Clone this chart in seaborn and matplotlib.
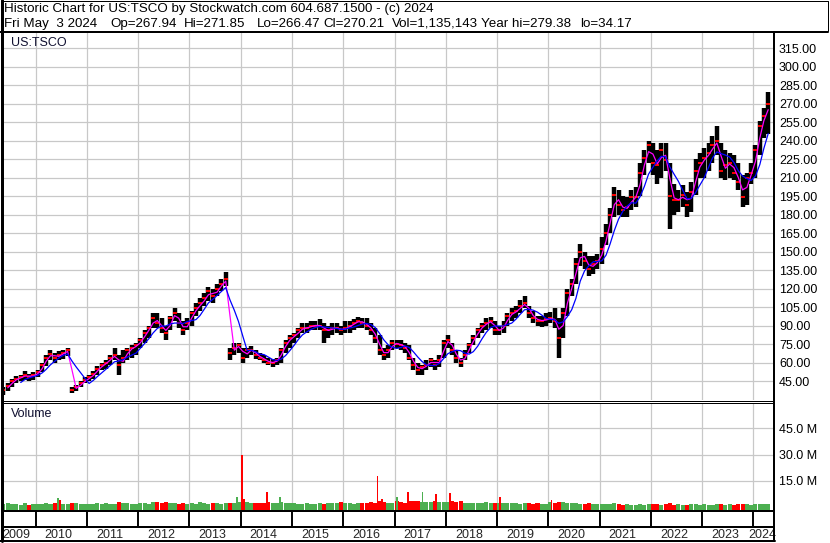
import numpy as np
import pandas as pd
import matplotlib
matplotlib.use("Agg")
import matplotlib.pyplot as plt
import seaborn as sns

W, H = 830, 543

# monthly bars, May 2009 .. Apr 2024 (prices not split-adjusted)
months = pd.date_range("2009-05-01", "2024-04-01", freq="MS")

high = [
    40, 43, 47, 49, 50, 53, 51, 52,                          # 2009
    54, 60, 66, 70, 68, 69, 70, 72, 40, 42, 45, 48,          # 2010
    50, 53, 57, 60, 62, 66, 72, 66, 70, 72, 74, 76,          # 2011
    80, 86, 90, 100, 100, 96, 90, 98, 104, 100, 94, 96,      # 2012
    102, 108, 112, 116, 121, 120, 124, 128, 133, 72, 76, 76, # 2013
    72, 72, 73, 70, 68, 66, 64, 63, 64, 72, 78, 82,          # 2014
    84, 88, 92, 92, 94, 94, 95, 92, 90, 92, 92, 90,          # 2015
    94, 94, 95, 97, 96, 96, 92, 88, 82, 72, 74, 78,          # 2016
    78, 78, 76, 74, 64, 60, 58, 62, 64, 62, 66, 78,          # 2017
    82, 76, 70, 64, 70, 76, 82, 88, 92, 96, 97, 94,          # 2018
    90, 94, 100, 104, 106, 111, 114, 106, 102, 98, 98, 100,  # 2019
    101, 104, 96, 104, 120, 128, 145, 156, 150, 146, 146, 148,  # 2020
    162, 172, 185, 202, 200, 195, 194, 200, 202, 222, 232, 240,  # 2021
    238, 232, 238, 238, 222, 205, 200, 204, 198, 206, 225, 230,  # 2022
    234, 238, 244, 252, 238, 232, 230, 228, 222, 212, 214, 222,  # 2023
    236, 256, 266, 279,                                      # 2024
]
low = [
    34, 37, 40, 43, 45, 46, 45, 46,
    48, 52, 57, 62, 60, 62, 63, 65, 35, 37, 40, 43,
    45, 47, 50, 54, 55, 58, 62, 50, 60, 62, 64, 66,
    72, 76, 80, 88, 88, 84, 78, 86, 94, 88, 82, 86,
    90, 98, 102, 106, 110, 108, 114, 118, 122, 62, 66, 68,
    60, 64, 66, 63, 62, 60, 58, 56, 58, 60, 68, 72,
    76, 80, 84, 84, 86, 86, 86, 76, 80, 82, 84, 82,
    84, 84, 86, 88, 88, 86, 82, 76, 66, 62, 64, 70,
    72, 70, 68, 62, 54, 50, 50, 54, 56, 54, 56, 64,
    72, 66, 60, 56, 62, 68, 74, 80, 84, 86, 88, 82,
    82, 84, 90, 94, 96, 100, 104, 96, 92, 90, 89, 90,
    92, 88, 64, 80, 98, 114, 124, 138, 136, 130, 132, 136,
    140, 155, 165, 178, 180, 178, 178, 184, 186, 195, 212, 222,
    212, 205, 210, 215, 168, 180, 182, 186, 178, 182, 196, 210,
    210, 215, 222, 228, 210, 208, 210, 208, 200, 186, 188, 205,
    210, 228, 242, 245,
]
close = [
    38, 41, 45, 47, 48, 50, 48, 50,
    52, 58, 64, 67, 64, 66, 68, 70, 38, 40, 43, 46,
    48, 51, 55, 58, 60, 64, 66, 58, 64, 70, 72, 74,
    78, 84, 88, 96, 92, 88, 84, 96, 100, 92, 86, 92,
    100, 104, 108, 112, 118, 114, 120, 124, 128, 68, 72, 74,
    64, 70, 70, 66, 64, 62, 60, 60, 62, 70, 76, 80,
    82, 86, 88, 88, 90, 90, 90, 86, 86, 88, 88, 86,
    88, 90, 92, 94, 92, 90, 86, 80, 70, 66, 70, 76,
    75, 74, 72, 64, 58, 54, 56, 58, 62, 58, 62, 76,
    78, 70, 64, 60, 66, 74, 80, 86, 90, 92, 94, 86,
    86, 90, 98, 100, 102, 106, 108, 100, 96, 94, 94, 95,
    96, 94, 80, 100, 116, 124, 140, 150, 142, 136, 140, 142,
    152, 165, 180, 196, 188, 184, 186, 194, 194, 214, 226, 236,
    222, 220, 232, 224, 195, 192, 192, 196, 188, 198, 215, 222,
    226, 230, 236, 240, 215, 220, 222, 214, 206, 194, 210, 214,
    232, 252, 260, 270,
]
# typical daily volume per month, millions
volume = [
    1.8, 2.2, 1.5, 1.6, 1.4, 2.0, 1.2, 1.5,
    1.5, 1.8, 2.0, 1.6, 2.0, 2.5, 1.8, 1.5, 2.2, 2.5, 1.5, 1.5,
    1.5, 1.6, 2.0, 1.8, 2.4, 1.5, 1.8, 2.6, 2.0, 2.2, 1.6, 1.8,
    2.0, 2.5, 1.8, 2.8, 3.0, 2.4, 2.6, 2.0, 2.2, 1.8, 2.5, 1.8,
    2.0, 1.8, 2.6, 2.0, 1.5, 2.4, 2.0, 1.8, 2.2, 2.0, 2.5, 2.6,
    3.5, 3.0, 2.5, 2.5, 2.5, 2.0, 3.0, 2.5, 2.0, 3.0, 2.0, 2.0,
    2.0, 1.8, 1.6, 2.0, 1.6, 1.5, 2.2, 1.8, 2.5, 2.4, 2.0, 2.6,
    2.0, 2.5, 1.8, 2.4, 2.0, 2.2, 3.0, 2.5, 3.2, 3.0, 2.5, 2.5,
    3.2, 3.0, 2.5, 3.5, 3.5, 3.2, 3.0, 3.0, 3.0, 3.2, 3.0, 3.0,
    3.0, 3.5, 3.0, 3.5, 2.5, 2.2, 2.4, 2.5, 2.0, 2.6, 2.2, 2.5,
    2.5, 2.2, 2.0, 2.4, 2.0, 1.8, 2.5, 2.2, 1.8, 2.0, 1.6, 1.8,
    2.6, 2.5, 3.0, 2.6, 2.2, 2.0, 2.5, 1.8, 1.6, 2.0, 1.8, 1.6,
    1.6, 1.5, 1.8, 2.0, 1.6, 1.4, 1.6, 1.3, 1.4, 1.8, 1.4, 1.5,
    1.6, 1.8, 1.4, 1.5, 2.0, 1.4, 1.6, 1.2, 1.4, 1.6, 1.5, 1.2,
    1.5, 1.4, 1.3, 1.6, 1.8, 1.3, 1.5, 1.4, 1.6, 1.8, 1.5, 1.4,
    1.6, 1.7, 1.5, 1.8,
]
# single heavy-volume days
spike_dates = ["2010-06-08", "2010-06-22", "2013-12-05", "2014-01-10", "2014-01-24",
               "2014-07-07", "2014-10-09", "2016-09-02", "2016-10-06", "2017-01-18",
               "2017-04-06", "2017-07-20", "2017-10-23", "2018-01-30", "2019-01-25",
               "2020-01-24"]
spike_vols = [5.2, 4.0, 5.9, 30.0, 4.5, 8.8, 5.9, 17.9, 4.5, 5.9,
              8.8, 8.8, 7.3, 7.8, 5.9, 4.0]
spike_up = [True, False, True, False, False, False, True, False, False, True,
            False, True, False, False, False, False]

years = list(range(2009, 2025))
price_ticks = list(range(45, 316, 15))
vol_ticks = [15, 30, 45]

header1 = "Historic Chart for US:TSCO by Stockwatch.com 604.687.1500 - (c) 2024"
header2 = [("Fri May  3 2024", 3.5), ("Op=267.94", 110), ("Hi=271.85", 184),
           ("Lo=266.47", 257), ("Cl=270.21", 323), ("Vol=1,135,143", 392),
           ("Year hi=279.38", 481), ("lo=34.17", 580)]

XMIN, XMAX = 2009.3425, 2024.384
GREEN, RED = "#4caf50", "#ff0000"


def dec_year(d):
    d = pd.Timestamp(d)
    return d.year + (d.dayofyear - 1) / (366 if d.is_leap_year else 365)


sns.set_theme(style="white")
plt.rcParams["font.family"] = ["Liberation Sans", "DejaVu Sans"]

fig = plt.figure(figsize=(W / 100, H / 100), dpi=100)
fig.patch.set_facecolor("white")


def px_axes(x0, y0, x1, y1):
    ax = fig.add_axes([x0 / W, 1 - y1 / H, (x1 - x0) / W, (y1 - y0) / H])
    ax.set_xlim(XMIN, XMAX)
    for s in ax.spines.values():
        s.set_visible(False)
    ax.tick_params(length=0)
    return ax


df = pd.DataFrame({"x": [dec_year(m) + 1 / 24 for m in months],
                   "high": high, "low": low, "close": close, "vol": volume})
df["ma_fast"] = df["close"].rolling(2).mean()
df["ma_slow"] = df["close"].rolling(5).mean()
df["up"] = df["close"].diff().fillna(1) >= 0

# price panel
ax_p = px_axes(2, 32, 773, 400)
ax_p.set_ylim(29.6, 328.0)
ax_p.set_xticks(years[1:])
ax_p.set_xticklabels([])
ax_p.set_yticks(price_ticks)
ax_p.set_yticklabels([f"{t:.2f}" for t in price_ticks])
ax_p.yaxis.tick_right()
ax_p.tick_params(axis="y", pad=4.3, labelsize=9, labelcolor="black")
ax_p.grid(True, color="#c8c8c8", lw=0.9)
ax_p.set_axisbelow(True)

ax_p.vlines(df["x"], df["low"], df["high"], colors="black", lw=3.2, zorder=2)
ax_p.plot(df["x"], df["close"], ls="none", marker="_", ms=3.5, mew=1.4, color=RED, zorder=3)
sns.lineplot(data=df, x="x", y="ma_fast", ax=ax_p, color="#ff00ff", lw=0.9, zorder=4)
sns.lineplot(data=df, x="x", y="ma_slow", ax=ax_p, color="#0000ff", lw=0.9, zorder=5)
ax_p.set_xlabel("")
ax_p.set_ylabel("")
ax_p.set_xlim(XMIN, XMAX)
ax_p.text(9.3 / 771, 1 - (45.7 - 32) / 368, "US:TSCO", transform=ax_p.transAxes,
          fontsize=9, va="baseline", ha="left", color="#101030")

# volume panel
VMIN, VMAX = -1.72, 59.5
ax_v = px_axes(2, 403, 773, 510)
ax_v.set_ylim(VMIN, VMAX)
ax_v.set_xticks(years[1:])
ax_v.set_xticklabels([])
ax_v.set_yticks(vol_ticks)
ax_v.set_yticklabels([f"{t:.1f} M" for t in vol_ticks])
ax_v.yaxis.tick_right()
ax_v.tick_params(axis="y", pad=4.3, labelsize=9, labelcolor="black")
ax_v.grid(True, color="#c8c8c8", lw=0.9)
ax_v.set_axisbelow(True)
ax_v.bar(df["x"], df["vol"] - VMIN, bottom=VMIN, width=0.95 / 12,
         color=[GREEN if u else RED for u in df["up"]], lw=0, zorder=2)
sx = [dec_year(d) for d in spike_dates]
ax_v.bar(sx, np.array(spike_vols) - VMIN, bottom=VMIN, width=0.035,
         color=[GREEN if u else RED for u in spike_up], lw=0, zorder=3)
ax_v.text(9.3 / 771, 1 - (417.3 - 403) / 107, "Volume", transform=ax_v.transAxes,
          fontsize=9, va="baseline", ha="left", color="#101030")

# year separators and labels
ax_d = px_axes(2, 510, 773, 527)
ax_d.axis("off")
for y in years[1:]:
    ax_d.axvline(y, color="black", lw=1.4)

ax_y = px_axes(2, 527, 773, 541)
ax_y.axis("off")
for y in years:
    if y == 2009:
        ax_y.text(XMIN + 0.005, 0.45, str(y), ha="left", va="center", fontsize=9)
    elif y == 2024:
        ax_y.text(2024.18, 0.45, str(y), ha="center", va="center", fontsize=9)
    else:
        ax_y.text(y + 0.45, 0.45, str(y), ha="center", va="center", fontsize=9)

# frame and header
fr = fig.add_axes([0, 0, 1, 1], facecolor="none")
fr.set_xlim(0, W)
fr.set_ylim(H, 0)
fr.axis("off")
k = 0.72  # points per pixel
fr.plot([0.5, 827.5, 827.5], [0.5, 0.5, 31], color="black", lw=k)
fr.plot([1.5, 1.5], [0, 541], color="black", lw=3 * k)
fr.plot([0, 828], [31.5, 31.5], color="black", lw=2 * k)
fr.plot([774, 774], [32, 541], color="black", lw=2 * k)
fr.plot([2, 773], [400.5, 400.5], color="black", lw=k)
fr.plot([2, 773], [402.5, 402.5], color="black", lw=k)
fr.plot([2, 773], [510.5, 510.5], color="black", lw=2 * k)
fr.plot([2, 773], [527, 527], color="black", lw=2 * k)
fr.plot([0, 775], [540.5, 540.5], color="black", lw=2 * k)

fr.text(3.5, 12, header1, fontsize=9.6, va="baseline", ha="left", color="black")
for txt, xp in header2:
    fr.text(xp, 27, txt, fontsize=9.6, va="baseline", ha="left", color="black")

fig.savefig("out.png", dpi=100)
